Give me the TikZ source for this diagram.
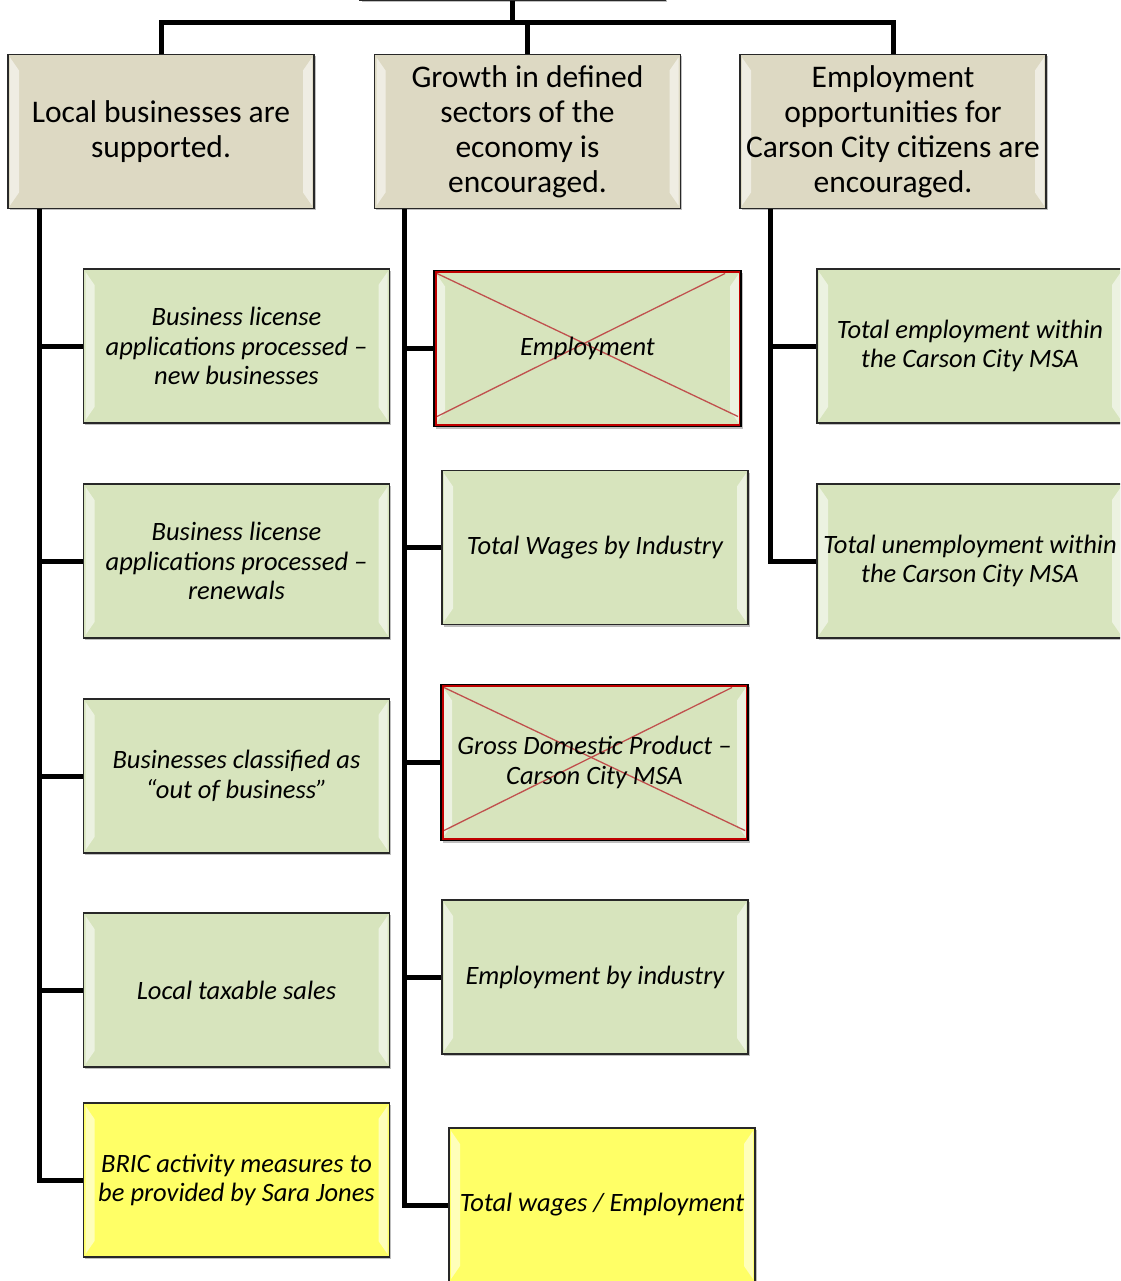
\documentclass[tikz,border=0pt]{standalone}
\usepackage{fontspec}
\setmainfont{Carlito}
\usetikzlibrary{shadows}
\definecolor{headtan}{RGB}{221,217,195}
\definecolor{leafgreen}{RGB}{215,228,189}
\definecolor{noteyellow}{RGB}{255,255,102}
\definecolor{crossred}{RGB}{192,80,77}
\definecolor{framered}{RGB}{192,0,0}
\definecolor{framegray}{RGB}{40,40,40}
% bevel strips on the inner left and right edges
\newcommand\bevelpic{%
  \fill[white,opacity=0.55] ([shift={(2pt,-3pt)}]path picture bounding box.north west)
    -- ([shift={(11pt,-16pt)}]path picture bounding box.north west)
    -- ([shift={(11pt,16pt)}]path picture bounding box.south west)
    -- ([shift={(2pt,3pt)}]path picture bounding box.south west) -- cycle;
  \fill[white,opacity=0.55] ([shift={(-2pt,-3pt)}]path picture bounding box.north east)
    -- ([shift={(-11pt,-16pt)}]path picture bounding box.north east)
    -- ([shift={(-11pt,16pt)}]path picture bounding box.south east)
    -- ([shift={(-2pt,3pt)}]path picture bounding box.south east) -- cycle;}
% red frame and red cross of a struck box
\newcommand\crosspic{%
  \draw[framered,line width=5pt] (path picture bounding box.north west) rectangle (path picture bounding box.south east);
  \draw[crossred,line width=1.3pt] ([shift={(3pt,-3pt)}]path picture bounding box.north west) -- ([shift={(-3pt,10pt)}]path picture bounding box.south east);
  \draw[crossred,line width=1.3pt] ([shift={(-16pt,-3pt)}]path picture bounding box.north east) -- ([shift={(3pt,10pt)}]path picture bounding box.south west);}
\tikzset{
  box/.style={rectangle, draw=framegray, line width=1.5pt, minimum width=306pt, minimum height=154pt,
    inner sep=0pt, align=center, path picture={\bevelpic},
    drop shadow={shadow xshift=1.5pt, shadow yshift=-2pt, opacity=0.25, fill=black}},
  head/.style={box, fill=headtan, font=\fontsize{31.5}{35}\selectfont},
  leaf/.style={box, fill=leafgreen, font=\fontsize{26.5}{29.5}\selectfont\itshape},
  note/.style={leaf, fill=noteyellow},
  struck/.style={leaf, draw=black, minimum width=307pt, minimum height=156pt, path picture={\bevelpic\crosspic}},
  conn/.style={line width=5pt, line join=miter},
}
\begin{document}
\begin{tikzpicture}[x=1pt, y=-1pt]
  \useasboundingbox (0,0) rectangle (1120,1281);
  \begin{scope}
    \clip (0,0) rectangle (1120,1281);
    % top of the chart
    \node[head, minimum width=305pt, minimum height=40pt] (root) at (512.5,-20) {};
    \node[head] (goalA) at (161,131.5) {Local businesses are\\supported.};
    \node[head] (goalB) at (527.5,131.5) {Growth in defined\\sectors of the\\economy is\\encouraged.};
    \node[head] (goalC) at (893,131.5) {Employment\\opportunities for\\Carson City citizens are\\encouraged.};
    % measures of goal A
    \node[leaf] (measA1) at (236.5,346) {Business license\\applications processed –\\new businesses};
    \node[leaf] (measA2) at (236.5,561) {Business license\\applications processed –\\renewals};
    \node[leaf] (measA3) at (236.5,776) {Businesses classified as\\“out of business”};
    \node[leaf] (measA4) at (236.5,990) {Local taxable sales};
    \node[note] (measA5) at (236.5,1180) {BRIC activity measures to\\be provided by Sara Jones};
    % measures of goal B
    \node[struck] (measB1) at (587.5,348.5) {Employment};
    \node[leaf] (measB2) at (595,547.5) {Total Wages by Industry};
    \node[struck] (measB3) at (594.5,762.5) {Gross Domestic Product –\\Carson City MSA};
    \node[leaf] (measB4) at (595,977) {Employment by industry};
    \node[note] (measB5) at (602,1205) {Total wages / Employment};
    % measures of goal C
    \node[leaf] (measC1) at (970,346) {Total employment within\\the Carson City MSA};
    \node[leaf] (measC2) at (970,561) {Total unemployment within\\the Carson City MSA};
  \end{scope}
  % connectors
  \draw[conn] (root.south) -- ++(0,22) coordinate (bar);
  \draw[conn] (bar) -| (goalA.north);
  \draw[conn] (bar) -| (goalB.north);
  \draw[conn] (bar) -| (goalC.north);
  \coordinate (spineA) at ([xshift=32pt]goalA.south west);
  \coordinate (spineB) at ([xshift=31pt]goalB.south west);
  \coordinate (spineC) at ([xshift=31pt]goalC.south west);
  \foreach \m in {measA1,measA2,measA3,measA4,measA5}
    \draw[conn] (spineA) |- (\m.west);
  \foreach \m in {measB1,measB2,measB3,measB4,measB5}
    \draw[conn] (spineB) |- (\m.west);
  \foreach \m in {measC1,measC2}
    \draw[conn] (spineC) |- (\m.west);
\end{tikzpicture}
\end{document}
